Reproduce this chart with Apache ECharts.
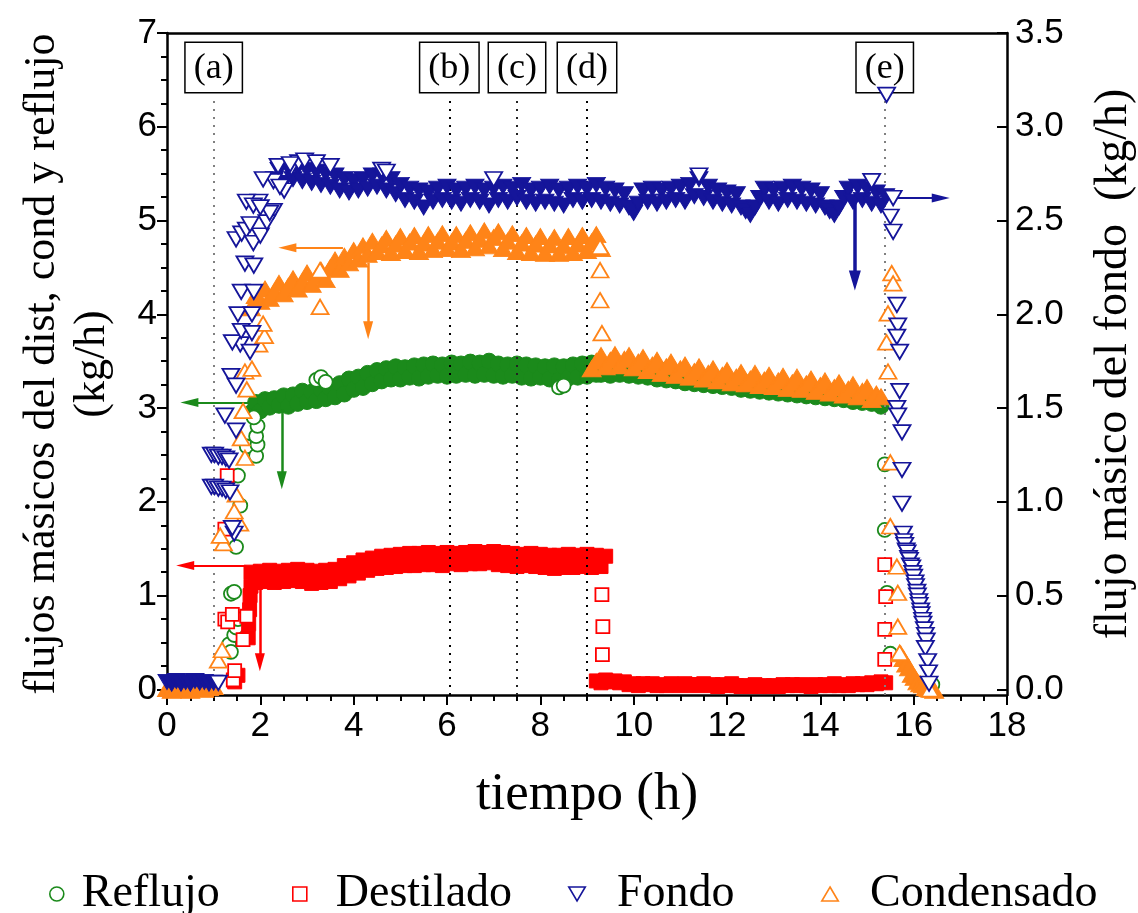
<!DOCTYPE html>
<html><head><meta charset="utf-8">
<script src="https://cdn.jsdelivr.net/npm/echarts@6/dist/echarts.min.js"></script>
<style>html,body{margin:0;padding:0;background:#fff;overflow:hidden}#c{width:1138px;height:913px}</style>
</head><body><div id="c"></div>
<script>
// ---------- axis ticks / labels ----------
const xTicks = [0, 2, 4, 6, 8, 10, 12, 14, 16, 18];
const leftTicks = [0, 1, 2, 3, 4, 5, 6, 7];
const rightTicks = [0.0, 0.5, 1.0, 1.5, 2.0, 2.5, 3.0, 3.5];
const eventTimes = [1.0, 6.05, 7.5, 9.0, 15.38];
const eventLabels = ['(a)', '(b)', '(c)', '(d)', '(e)'];
const seriesNames = ['Reflujo', 'Destilado', 'Fondo', 'Condensado'];

// ---------- logged data (sampling step 0.1 h), left axis kg/h unless noted ----------
const SAMPLE_STEP = 0.1;
const reflujoLogAStart = 1.8;
const reflujoLogA = [2.95,3.06,2.97,3.09,3.01,3.10,3.03,3.13,3.02,3.14, 3.05,3.18,3.07,3.17,3.08,3.20,3.10,3.21,3.12,3.26,
 3.15,3.31,3.20,3.33,3.22,3.37,3.26,3.40,3.29,3.42, 3.31,3.44,3.31,3.43,3.33,3.45,3.32,3.46,3.34,3.47,
 3.35,3.46,3.34,3.48,3.35,3.47,3.36,3.49,3.35,3.48, 3.36,3.50,3.35,3.47,3.34,3.46,3.35,3.47,3.33,3.46,
 3.32,3.45,3.33,3.44,3.31,3.45,3.30,3.44,3.32,3.46, 3.33,3.47,3.34,3.48,3.36];
const reflujoLogBStart = 9.3;
const reflujoLogB = [3.36,3.44,3.35,3.45,3.36,3.44,3.35,3.44,3.34,3.42, 3.33,3.41,3.31,3.40,3.30,3.38,3.29,3.37,3.27,3.35,
 3.26,3.34,3.25,3.32,3.24,3.31,3.23,3.30,3.22,3.29, 3.20,3.27,3.19,3.26,3.18,3.25,3.17,3.24,3.16,3.23,
 3.15,3.22,3.14,3.21,3.13,3.20,3.12,3.19,3.11,3.17, 3.10,3.16,3.09,3.15,3.07,3.13,3.06,3.12,3.05,3.10, 3.02];
const reflujoPoints = [[1.33,0.48],[1.37,0.40],[1.44,0.58],[1.48,0.66],[1.52,0.75],[1.37,1.02],[1.44,1.04],[1.48,1.52],
 [1.57,1.96],[1.52,2.28],[1.71,2.59],[1.91,2.49],[1.94,2.61],[1.91,2.70],[1.94,2.81],[1.86,2.90],
 [3.2,3.30],[3.3,3.33],[3.4,3.28],[8.4,3.22],[8.5,3.24],
 [15.38,2.40],[15.38,1.70],[15.43,1.03],[15.5,0.38],[16.4,0.05]];

const destiladoLogAStart = 1.8;
const destiladoLogA = [1.25,1.14,1.26,1.15,1.27,1.14,1.26,1.15,1.27,1.16, 1.28,1.15,1.27,1.13,1.26,1.14,1.27,1.15,1.28,1.18,
 1.32,1.21,1.35,1.24,1.38,1.27,1.40,1.29,1.42,1.30, 1.43,1.31,1.44,1.32,1.45,1.32,1.45,1.33,1.46,1.33,
 1.45,1.32,1.46,1.34,1.45,1.33,1.46,1.34,1.47,1.34, 1.46,1.35,1.47,1.33,1.46,1.32,1.45,1.31,1.44,1.32,
 1.45,1.31,1.44,1.30,1.43,1.29,1.43,1.30,1.44,1.30, 1.43,1.31,1.44,1.30,1.43,1.31,1.42];
const destiladoLogBStart = 9.2;
const destiladoLogB = [0.09,0.07,0.10,0.08,0.09,0.07,0.08,0.05,0.06,0.04, 0.06,0.05,0.06,0.04,0.05,0.04,0.06,0.05,0.04,0.06,
 0.05,0.04,0.05,0.06,0.04,0.05,0.03,0.05,0.04,0.06, 0.04,0.03,0.04,0.03,0.05,0.03,0.04,0.03,0.04,0.03,
 0.05,0.04,0.05,0.04,0.05,0.04,0.03,0.05,0.04,0.05, 0.04,0.06,0.04,0.05,0.04,0.06,0.05,0.06,0.05,0.07, 0.06,0.08,0.07];
const destiladoTail = [[1.74,0.55],[1.75,0.70],[1.77,0.85],[1.78,1.00],[1.80,1.10],[1.52,0.15],[1.45,0.08]];
const destiladoPoints = [[1.42,0.10],[1.45,0.20],[1.24,0.75],[1.30,0.72],[1.40,0.80],[1.63,0.53],[1.71,0.78],[1.24,1.71],[1.29,2.28],
 [9.32,1.01],[9.34,0.67],[9.33,0.37],
 [15.38,1.33],[15.40,0.99],[15.38,0.64],[15.38,0.32]];

const condensadoLog0Start = 0.0;
const condensadoLog0 = [0.01,-0.01,0.02,0.00,0.01,-0.01,0.02,0.01,0.00,0.02,0.03];
const condensadoLogAStart = 1.8;
const condensadoLogA = [4.07,4.20,4.14,4.27,4.17,4.24,4.33,4.22,4.30,4.38, 4.27,4.35,4.44,4.32,4.40,4.47,4.37,4.50,4.58,4.48,
 4.62,4.55,4.68,4.59,4.73,4.64,4.78,4.67,4.74,4.81, 4.66,4.75,4.83,4.68,4.77,4.84,4.67,4.76,4.85,4.69,
 4.78,4.86,4.70,4.77,4.85,4.69,4.79,4.87,4.71,4.80, 4.89,4.73,4.82,4.88,4.70,4.78,4.86,4.67,4.76,4.84,
 4.66,4.75,4.83,4.65,4.74,4.82,4.65,4.73,4.83,4.66, 4.75,4.84,4.68,4.77,4.85,4.70];
const condensadoLogBStart = 9.1;
const condensadoLogB = [3.42,3.50,3.56,3.44,3.51,3.57,3.45,3.52,3.56,3.43, 3.49,3.54,3.40,3.46,3.51,3.37,3.44,3.49,3.35,3.42,
 3.46,3.33,3.39,3.44,3.31,3.37,3.42,3.29,3.35,3.40, 3.27,3.33,3.38,3.26,3.31,3.37,3.24,3.30,3.35,3.23,
 3.29,3.34,3.21,3.27,3.33,3.20,3.26,3.31,3.18,3.24, 3.29,3.16,3.22,3.27,3.14,3.20,3.25,3.12,3.18,3.22, 3.09,3.15,3.12];
const condensadoTail = [[15.72,0.38],[15.78,0.33],[15.84,0.27],[15.90,0.23],[15.96,0.16],[16.02,0.13],[16.08,0.08],
 [16.14,0.06],[16.20,0.05],[16.26,0.02],[16.32,0.01],[16.38,0.00],[16.44,-0.01]];
const condensadoPoints = [[1.10,0.31],[1.18,0.42],[1.21,1.56],[1.14,1.64],[1.56,1.77],[1.44,1.90],[1.48,2.08],[1.67,2.47],
 [1.59,2.68],[1.63,2.97],[1.71,3.20],[1.67,3.39],[1.82,3.42],[1.97,3.68],[2.09,3.77],[2.06,3.90],
 [3.28,4.08],[3.28,4.47],
 [9.28,4.72],[9.28,4.47],[9.28,4.15],[9.32,3.80],
 [15.53,4.44],[15.56,4.33],[15.45,4.01],[15.42,3.70],[15.45,3.39],[15.50,2.42],[15.50,1.74],[15.64,1.31],
 [15.66,1.03],[15.66,0.67],[15.70,0.39],[16.35,0.00]];

// Fondo: right axis (kg/h)
const fondoLog0Start = 0.0;
const fondoLog0 = [0.040,0.030,0.045,0.030,0.040,0.030,0.045,0.035,0.040,0.030,0.035];
const fondoLogAStart = 2.3;
const fondoLogA = [2.72,2.77,2.70,2.78,2.72,2.78,2.71,2.77,2.70,2.76, 2.69,2.75,2.68,2.74,2.66,2.72,2.65,2.71,2.66,2.72,
 2.67,2.74,2.68,2.74,2.66,2.72,2.64,2.69,2.61,2.67, 2.60,2.66,2.57,2.65,2.60,2.67,2.61,2.68,2.60,2.66,
 2.59,2.67,2.61,2.68,2.60,2.66,2.58,2.67,2.61,2.68, 2.60,2.67,2.62,2.69,2.60,2.66,2.59,2.67,2.60,2.68,
 2.59,2.66,2.58,2.67,2.61,2.68,2.60,2.67,2.61,2.69, 2.60,2.67,2.59,2.66,2.58,2.64,2.57,2.54,2.59,2.66,
 2.60,2.67,2.59,2.66,2.60,2.67,2.61,2.68,2.60,2.69, 2.63,2.72,2.62,2.68,2.60,2.66,2.59,2.65,2.58,2.64,
 2.57,2.55,2.53,2.57,2.62,2.67,2.60,2.66,2.59,2.67, 2.61,2.68,2.60,2.67,2.59,2.66,2.58,2.64,2.57,2.55,
 2.53,2.57,2.62,2.67,2.60,2.68,2.61,2.67,2.59,2.65, 2.58,2.63];
const fondoPoints = [[1.10,0.035],
 [0.95,1.25],[1.02,1.25],[1.10,1.24],[1.18,1.24],[1.26,1.23],[1.33,1.22],
 [0.95,1.08],[1.02,1.08],[1.10,1.07],[1.18,1.07],[1.26,1.06],[1.35,1.05],
 [1.44,0.83],[1.40,0.86],[1.24,1.46],[1.48,1.38],[1.37,1.67],[1.48,1.62],[1.57,1.84],[1.40,1.85],[1.78,1.80],
 [1.59,1.91],[1.82,1.90],[1.52,2.00],[1.82,2.00],[1.59,2.12],[1.86,2.12],[1.67,2.27],[1.86,2.26],[1.48,2.40],
 [1.60,2.43],[1.70,2.45],[1.85,2.38],[2.00,2.42],[1.78,2.48],[1.97,2.60],[2.28,2.55],[2.28,2.71],[2.51,2.66],
 [2.66,2.78],[2.82,2.81],[2.14,2.49],[2.20,2.54],[2.06,2.72],[2.42,2.68],[2.38,2.79],[2.64,2.80],[1.70,2.60],
 [1.85,2.58],[2.00,2.57],
 [2.95,2.82],[3.20,2.81],[3.50,2.79],[4.60,2.77],[4.70,2.76],[7.00,2.72],[11.40,2.74],[15.10,2.71],
 [15.42,3.17],[15.56,2.62],[15.50,2.52],[15.56,2.44],[15.64,2.05],[15.66,1.94],[15.64,1.88],[15.70,1.80],
 [15.70,1.59],[15.64,1.50],[15.66,1.46],[15.75,1.37],[15.75,1.17],[15.75,0.99],[15.78,0.83],
 [15.79,0.79],[15.81,0.77],[15.84,0.74],[15.86,0.73],[15.89,0.70],[15.91,0.69],[15.93,0.66],[15.96,0.65],
 [15.98,0.62],[16.00,0.60],[16.03,0.57],[16.04,0.55],[16.07,0.52],[16.08,0.50],[16.11,0.47],[16.12,0.45],
 [16.15,0.42],[16.16,0.40],[16.19,0.37],[16.20,0.35],[16.23,0.32],[16.25,0.29],[16.27,0.26],
 [16.25,0.22],[16.30,0.15],[16.32,0.09],[16.33,0.03]];

// annotation arrows [x0, y0, x1, y1] in (h, left-axis kg/h); arrow head at (x1, y1)
const arrowOrangeH = [3.77, 4.71, 2.58, 4.71];
const arrowOrangeV = [4.31, 4.55, 4.31, 3.83];
const arrowGreenH  = [1.75, 3.06, 0.48, 3.06];
const arrowGreenV  = [2.46, 2.98, 2.46, 2.23];
const arrowRedH    = [1.70, 1.32, 0.39, 1.32];
const arrowRedV    = [1.99, 1.09, 1.99, 0.29];
const arrowBlueH   = [15.56, 5.24, 16.58, 5.24];
const arrowBlueV   = [14.74, 5.22, 14.74, 4.36];

// ---------- build ----------
const GREEN = '#1b8a1b', RED = '#ff0000', BLUE = '#15159a', ORANGE = '#ff8418';
const SERIF = 'Liberation Serif', SANS = 'Liberation Sans';
const DOWN_TRI = 'path://M0,0L10,0L5,8.5Z';
const UP_TRI = 'path://M5,0L10,8.5L0,8.5Z';
const SQUARE = 'path://M0,0H10V10H0Z';
const Y_MIN = -0.06, Y_MAX = 7, R_MIN = -0.03, R_MAX = 3.5;

function logSeries(t0, vals) { return vals.map((v, i) => [Math.round((t0 + i * SAMPLE_STEP) * 100) / 100, v]); }

const leftMinor = []; for (let v = 0; v < 7; v += 0.25) if (v % 1 !== 0) leftMinor.push(v);
const rightMinor = []; for (let v = 0; v < 3.5; v += 0.125) if (Math.abs(v * 2 - Math.round(v * 2)) > 1e-9) rightMinor.push(v);

function sc(name, data, symbol, size, color, filled, yIdx, z) {
  return {
    type: 'scatter', name, data, symbol, symbolSize: size, xAxisIndex: 0, yAxisIndex: yIdx,
    itemStyle: { color: filled ? color : '#fff', borderColor: color, borderWidth: filled ? 1 : 1.8, opacity: 1 },
    emphasis: { disabled: true }, silent: true, z: z, animation: false
  };
}

function arrowLine(a, color, width, head) {
  return [
    { coord: [a[0], a[1]], symbol: 'none', lineStyle: { color, width, type: 'solid' }, label: { show: false } },
    { coord: [a[2], a[3]], symbol: 'triangle', symbolSize: head, lineStyle: { color, width, type: 'solid' }, label: { show: false } }
  ];
}
const eventColors = ['#808080', '#000', '#222', '#000', '#808080'];
const markData = [];
eventTimes.forEach((t, i) => {
  const lab = { show: true, position: 'end', distance: 3, formatter: eventLabels[i], fontFamily: SERIF, fontSize: 36,
    color: '#000', backgroundColor: '#fff', borderColor: '#000', borderWidth: 1.5, padding: [6, 8, 3, 8], lineHeight: 40 };
  const ls = { color: eventColors[i], width: 2, type: [2, 6] };
  markData.push([{ coord: [t, Y_MIN], symbol: 'none', lineStyle: ls, label: lab }, { coord: [t, 6.34], symbol: 'none', lineStyle: ls, label: lab }]);
});
markData.push(arrowLine(arrowOrangeH, ORANGE, 2, [9, 18]));
markData.push(arrowLine(arrowOrangeV, ORANGE, 2.5, [10, 18]));
markData.push(arrowLine(arrowGreenH, GREEN, 2, [9, 18]));
markData.push(arrowLine(arrowGreenV, GREEN, 2.5, [10, 18]));
markData.push(arrowLine(arrowRedH, RED, 2, [9, 18]));
markData.push(arrowLine(arrowRedV, RED, 2.5, [10, 18]));
markData.push(arrowLine(arrowBlueH, BLUE, 2, [9, 18]));
markData.push(arrowLine(arrowBlueV, BLUE, 3.5, [12, 20]));

const TRI = [17, 14.5];
const series = [
  sc('Reflujo-log', logSeries(reflujoLogAStart, reflujoLogA).concat(logSeries(reflujoLogBStart, reflujoLogB)), 'circle', 16, GREEN, true, 0, 2),
  sc('Reflujo', reflujoPoints, 'circle', 14, GREEN, false, 0, 3),
  sc('Destilado-log', logSeries(destiladoLogAStart, destiladoLogA).concat(logSeries(destiladoLogBStart, destiladoLogB), destiladoTail), SQUARE, 14, RED, true, 0, 4),
  sc('Destilado', destiladoPoints, SQUARE, 13, RED, false, 0, 5),
  sc('Condensado-log', logSeries(condensadoLog0Start, condensadoLog0).concat(logSeries(condensadoLogAStart, condensadoLogA), logSeries(condensadoLogBStart, condensadoLogB), condensadoTail), UP_TRI, [19, 16], ORANGE, true, 0, 6),
  sc('Condensado', condensadoPoints, UP_TRI, TRI, ORANGE, false, 0, 7),
  sc('Fondo-log', logSeries(fondoLog0Start, fondoLog0).concat(logSeries(fondoLogAStart, fondoLogA)), DOWN_TRI, [18, 15], BLUE, true, 2, 8),
  sc('Fondo', fondoPoints, DOWN_TRI, TRI, BLUE, false, 2, 9),
  { type: 'scatter', name: 'annot', data: [], xAxisIndex: 0, yAxisIndex: 0, silent: true, z: 10,
    markLine: { silent: true, animation: false, symbol: ['none', 'none'], data: markData } }
];

function legendFor(name, icon, color, left, w) {
  return { left, top: 866, orient: 'horizontal', itemWidth: w, itemHeight: 14, selectedMode: false,
    data: [{ name, icon }], itemStyle: { color: '#fff', borderColor: color, borderWidth: 1.6 },
    textStyle: { fontFamily: SERIF, fontSize: 46, color: '#000' } };
}

const axisLineStyle = { color: '#000', width: 2.5 };
const option = {
  animation: false,
  backgroundColor: '#fff',
  grid: { left: 167, right: 131, top: 33, bottom: 218, containLabel: false, outerBoundsMode: 'none' },
  legend: [
    legendFor(seriesNames[0], 'circle', GREEN, 44, 40),
    legendFor(seriesNames[1], SQUARE, RED, 287, 62),
    legendFor(seriesNames[2], DOWN_TRI, BLUE, 563, 70),
    legendFor(seriesNames[3], UP_TRI, ORANGE, 816, 70)
  ],
  xAxis: [
    { type: 'value', position: 'bottom', min: xTicks[0], max: xTicks[xTicks.length - 1], interval: 2,
      axisLine: { show: true, onZero: false, lineStyle: axisLineStyle },
      axisTick: { show: true, inside: false, length: 10, lineStyle: { width: 2, color: '#000' } },
      minorTick: { show: true, splitNumber: 4, length: 6, lineStyle: { width: 2, color: '#000' } },
      splitLine: { show: false }, minorSplitLine: { show: false },
      axisLabel: { fontFamily: SANS, fontSize: 35, color: '#000', margin: 14 },
      name: 'tiempo (h)', nameLocation: 'middle', nameGap: 74,
      nameTextStyle: { fontFamily: SERIF, fontSize: 53, color: '#000' } },
    { type: 'value', position: 'top', min: 0, max: 18,
      axisLine: { show: true, onZero: false, lineStyle: axisLineStyle },
      axisTick: { show: false }, axisLabel: { show: false }, splitLine: { show: false } }
  ],
  yAxis: [
    { type: 'value', position: 'left', min: Y_MIN, max: Y_MAX,
      axisLine: { show: true, onZero: false, lineStyle: axisLineStyle },
      axisTick: { show: true, inside: false, length: 10, customValues: leftTicks, lineStyle: { width: 2, color: '#000' } },
      axisLabel: { customValues: leftTicks, fontFamily: SANS, fontSize: 35, color: '#000', margin: 10 },
      splitLine: { show: false },
      name: 'flujos másicos del dist, cond y reflujo\n(kg/h)', nameLocation: 'middle', nameRotate: 90, nameGap: 50,
      nameTextStyle: { fontFamily: SERIF, fontSize: 44, lineHeight: 50, color: '#000', align: 'center' } },
    { type: 'value', position: 'left', min: Y_MIN, max: Y_MAX,
      axisLine: { show: false }, axisLabel: { show: false }, splitLine: { show: false },
      axisTick: { show: true, inside: false, length: 6, customValues: leftMinor, lineStyle: { width: 2, color: '#000' } } },
    { type: 'value', position: 'right', min: R_MIN, max: R_MAX,
      axisLine: { show: true, onZero: false, lineStyle: axisLineStyle },
      axisTick: { show: true, inside: true, length: 10, customValues: rightTicks, lineStyle: { width: 2, color: '#000' } },
      axisLabel: { customValues: rightTicks, formatter: v => v.toFixed(1), fontFamily: SANS, fontSize: 35, color: '#000', margin: 8 },
      splitLine: { show: false },
      name: 'flujo másico del fondo  (kg/h)', nameLocation: 'middle', nameRotate: 90, nameGap: 84,
      nameTextStyle: { fontFamily: SERIF, fontSize: 46, lineHeight: 46, color: '#000' } },
    { type: 'value', position: 'right', min: R_MIN, max: R_MAX,
      axisLine: { show: false }, axisLabel: { show: false }, splitLine: { show: false },
      axisTick: { show: true, inside: true, length: 6, customValues: rightMinor, lineStyle: { width: 2, color: '#000' } } }
  ],
  series
};
const chart = echarts.init(document.getElementById('c'), null, { width: 1138, height: 913 });
chart.setOption(option);
</script></body></html>
